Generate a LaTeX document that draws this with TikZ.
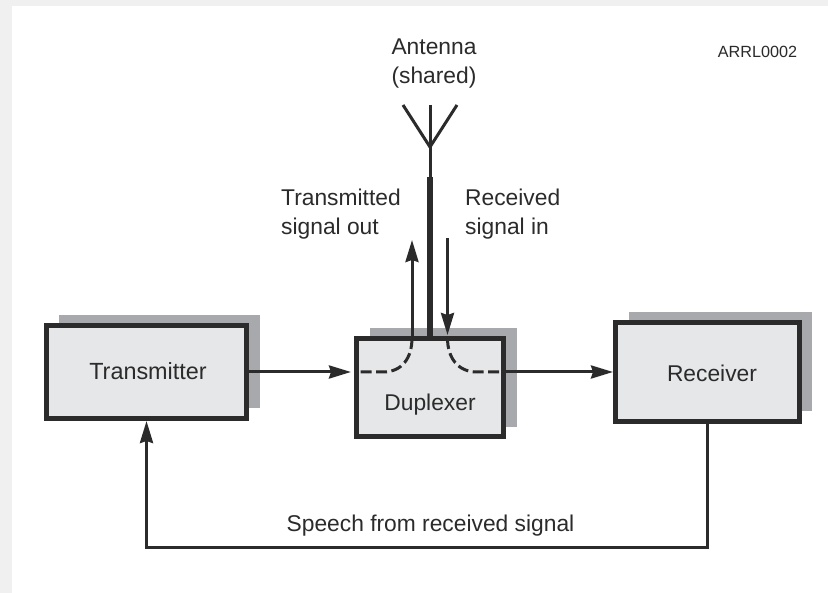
\documentclass[tikz,border=0pt]{standalone}
\usepackage{fontspec}
\setmainfont{Liberation Sans}
\usetikzlibrary{arrows.meta}
\definecolor{ink}{HTML}{2B2B2B}
\definecolor{shade}{HTML}{A7A9AC}
\definecolor{boxfill}{HTML}{E6E7E8}
\definecolor{frame}{HTML}{F0F0F0}
\tikzset{
  block/.style={draw=ink,fill=boxfill,line width=5.4pt,rectangle,inner sep=0pt},
  shadowbox/.style={fill=shade,draw=none},
  lbl/.style={text=ink,font=\fontsize{22.8pt}{29pt}\selectfont,inner sep=0pt,align=left},
  wire/.style={draw=ink,line width=3pt},
  sig/.style={wire,-{Stealth[length=22pt,width=13pt,inset=2pt]}},
  dashedsig/.style={draw=ink,line width=3pt,dash pattern=on 11pt off 4.5pt},
}
\begin{document}
\begin{tikzpicture}[x=1pt,y=-1pt]
\useasboundingbox (0,0) rectangle (828,593);
\fill[white] (0,0) rectangle (828,593);
\fill[frame] (0,0) rectangle (828,6);
\fill[frame] (0,0) rectangle (12,593);
% drop shadows
\fill[shadowbox] (59,315) rectangle (260,408);
\fill[shadowbox] (370,328) rectangle (517,427);
\fill[shadowbox] (628.5,312) rectangle (812,411);
% blocks
\node[block,minimum width=199.6pt,minimum height=92.6pt] (tx) at (146.5,372) {};
\node[block,minimum width=146.6pt,minimum height=97.6pt] (dup) at (430,387.5) {};
\node[block,minimum width=183.6pt,minimum height=98.6pt] (rx) at (707.5,372) {};
\node[lbl,font=\fontsize{23.4pt}{29pt}\selectfont] (txl) at (148,371) {Transmitter};
\node[lbl] (dupl) at (430,405) {Duplexer};
\node[lbl] (rxl) at (712,373) {Receiver};
% texts
\node[lbl,align=center] (ant) at (434,64) {Antenna\\(shared)};
\node[lbl,anchor=west] (tout) at (281,214) {Transmitted\\signal out};
\node[lbl,anchor=west] (rin) at (465,214) {Received\\signal in};
\node[lbl,font=\fontsize{16.2pt}{20pt}\selectfont] (id) at (757.5,52) {ARRL0002};
\node[lbl] (speech) at (430.5,526) {Speech from received signal};
% antenna
\coordinate (atopl) at (403,105);
\coordinate (atopm) at (430,105);
\coordinate (atopr) at (457,105);
\coordinate (ajoin) at (430,147);
\coordinate (athick) at (430,177);
\draw[wire,line width=3pt] (atopl) -- (ajoin) -- (atopr);
\draw[wire,line width=3pt] (atopm) -- (athick);
\draw[draw=ink,line width=6.5pt] (athick) -- (dup.north);
% signal arrows
\coordinate (tupt) at (412,240);
\coordinate (tupb) at (412,338);
\coordinate (rint) at (447.5,238);
\coordinate (rinb) at (447.5,335);
\coordinate (dl) at (354,372);
\coordinate (dlt) at (351,372);
\coordinate (dr) at (506,372);
\draw[sig] (tupb) -- (tupt);
\draw[sig] (rint) -- (rinb);
\draw[sig] (tx.east) -- (dlt);
\draw[sig] (dr) -- (rx.west);
\draw[dashedsig] (412,338) .. controls (412,358) and (402,372) .. (383,372) -- (dl);
\draw[dashedsig] (447.5,338) .. controls (447.5,358) and (458,372) .. (477,372) -- (dr);
% feedback
\coordinate (fbrc) at (707.5,548);
\coordinate (fblc) at (146.5,548);
\draw[sig] (rx.south) -- (fbrc) -- (fblc) -- (tx.south);
\end{tikzpicture}
\end{document}
